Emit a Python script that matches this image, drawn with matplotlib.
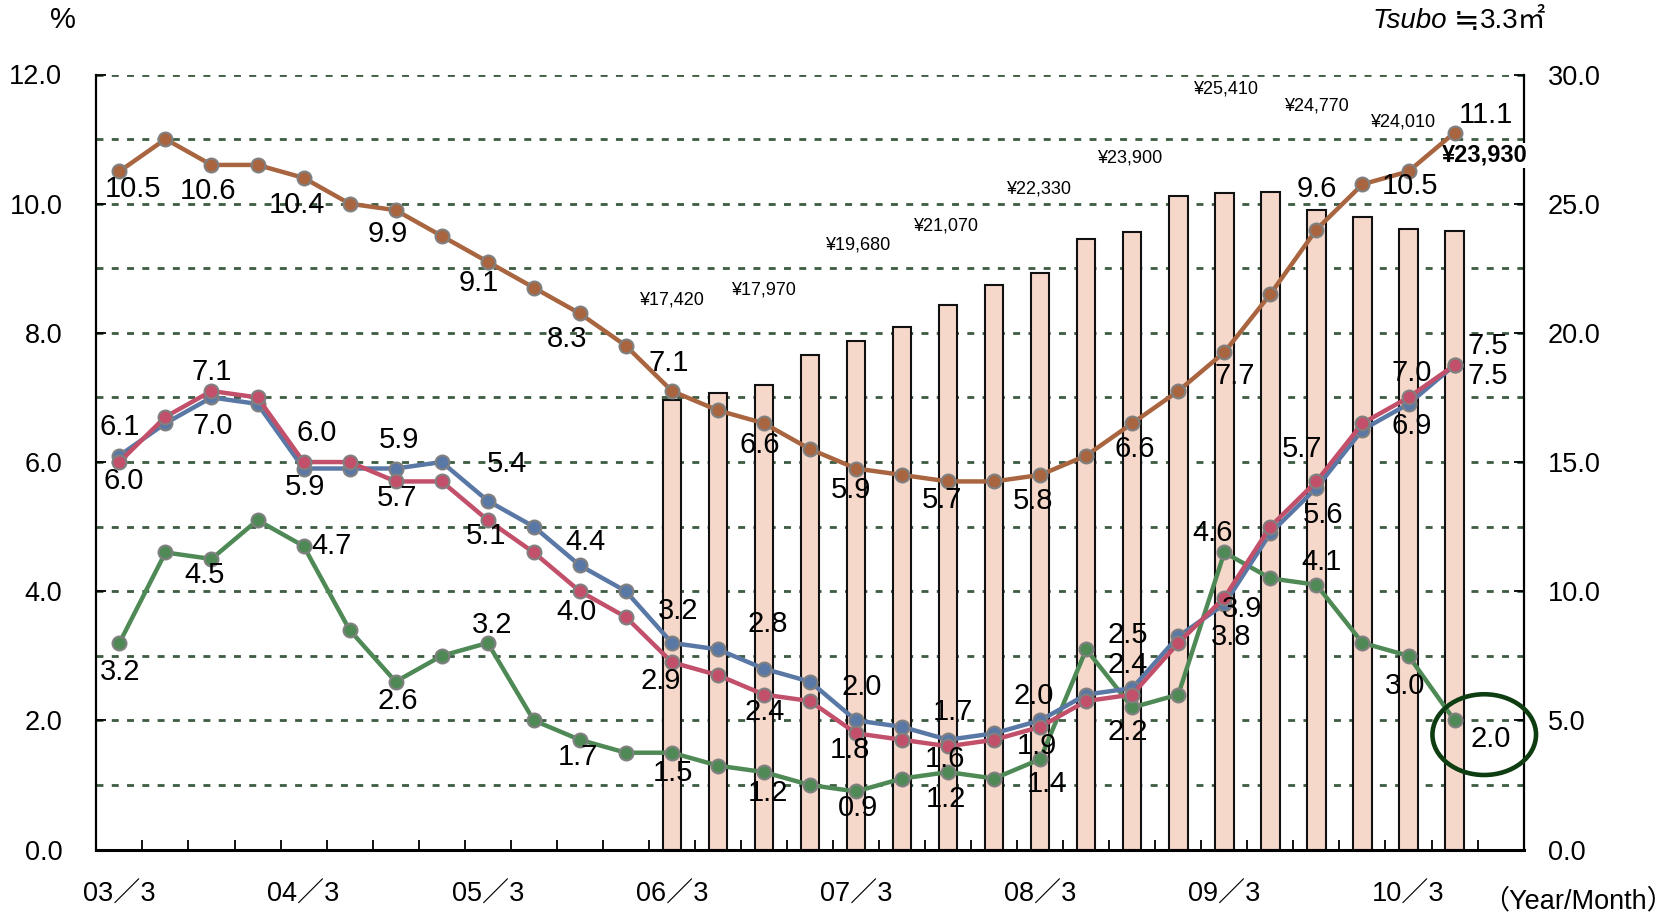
import numpy as np
import matplotlib
matplotlib.use('Agg')
import matplotlib.pyplot as plt
from matplotlib.patches import Ellipse

plt.rcParams['font.family'] = ['Liberation Sans', 'Noto Sans CJK JP', 'DejaVu Sans']
plt.rcParams['lines.scale_dashes'] = False

# quarterly periods 03/3 .. 10/6
periods = ['03/3', '03/6', '03/9', '03/12', '04/3', '04/6', '04/9', '04/12',
           '05/3', '05/6', '05/9', '05/12', '06/3', '06/6', '06/9', '06/12',
           '07/3', '07/6', '07/9', '07/12', '08/3', '08/6', '08/9', '08/12',
           '09/3', '09/6', '09/9', '09/12', '10/3', '10/6']

brown = [10.5, 11.0, 10.6, 10.6, 10.4, 10.0, 9.9, 9.5, 9.1, 8.7, 8.3, 7.8, 7.1, 6.8, 6.6,
         6.2, 5.9, 5.8, 5.7, 5.7, 5.8, 6.1, 6.6, 7.1, 7.7, 8.6, 9.6, 10.3, 10.5, 11.1]
blue = [6.1, 6.6, 7.0, 6.9, 5.9, 5.9, 5.9, 6.0, 5.4, 5.0, 4.4, 4.0, 3.2, 3.1, 2.8,
        2.6, 2.0, 1.9, 1.7, 1.8, 2.0, 2.4, 2.5, 3.3, 3.8, 4.9, 5.6, 6.5, 6.9, 7.5]
red = [6.0, 6.7, 7.1, 7.0, 6.0, 6.0, 5.7, 5.7, 5.1, 4.6, 4.0, 3.6, 2.9, 2.7, 2.4,
       2.3, 1.8, 1.7, 1.6, 1.7, 1.9, 2.3, 2.4, 3.2, 3.9, 5.0, 5.7, 6.6, 7.0, 7.5]
green = [3.2, 4.6, 4.5, 5.1, 4.7, 3.4, 2.6, 3.0, 3.2, 2.0, 1.7, 1.5, 1.5, 1.3, 1.2,
         1.0, 0.9, 1.1, 1.2, 1.1, 1.4, 3.1, 2.2, 2.4, 4.6, 4.2, 4.1, 3.2, 3.0, 2.0]

# rent per tsubo (thousand yen), from 06/3
rent_start = 12
rent = [17.42, 17.68, 17.97, 19.15, 19.68, 20.24, 21.07, 21.86, 22.33, 23.63,
        23.90, 25.28, 25.41, 25.44, 24.77, 24.48, 24.01, 23.93]
rent_labels = {12: '¥17,420', 14: '¥17,970', 16: '¥19,680', 18: '¥21,070', 20: '¥22,330',
               22: '¥23,900', 24: '¥25,410', 26: '¥24,770', 28: '¥24,010', 29: '¥23,930'}

# label offsets in pixels (dx, dy down) for each labelled point
brown_off = {0: (14, 18), 2: (-3, 26), 4: (-7, 27), 6: (-8, 24), 8: (-9, 21), 10: (-13, 26),
             12: (-3, -28), 14: (-4, 22), 16: (-5, 21), 18: (-6, 19), 20: (-7, 26),
             22: (2, 26), 24: (10, 24), 26: (0, -41), 28: (1, 15), 29: (31, -18)}
blue_off = {0: (0, -29), 2: (1, 29), 4: (1, 18), 6: (3, -29), 8: (19, -37), 10: (6, -23),
            12: (6, -32), 14: (4, -45), 16: (6, -33), 18: (5, -28), 20: (-7, -24),
            22: (-5, -53), 24: (7, 33), 26: (7, 27), 28: (3, 22), 29: (33, 11)}
red_off = {0: (4, 19), 2: (0, -19), 4: (13, -29), 6: (1, 17), 8: (-2, 16), 10: (-3, 21),
           12: (-11, 19), 14: (1, 17), 16: (-6, 17), 18: (-3, 13), 20: (-3, 19),
           22: (-5, -30), 24: (18, 11), 26: (-14, -32), 28: (3, -24), 29: (33, -19)}
green_off = {0: (1, 29), 2: (-7, 16), 4: (28, 0), 6: (2, 19), 8: (4, -18), 10: (-2, 17),
             12: (1, 20), 14: (4, 21), 16: (2, 17), 18: (-2, 27), 20: (7, 25), 22: (-5, 25),
             24: (-12, -19), 26: (5, -23), 28: (-3, 30), 29: (36, 19)}
rent_off = {12: (0, -100), 14: (-1, -95), 16: (2, -96), 18: (-3, -79), 20: (-2, -84),
            22: (-3, -74), 24: (1, -104), 26: (0, -104), 28: (-6, -107), 29: (30, -76)}

c_brown = '#a8653f'
c_blue = '#5a78a6'
c_red = '#c2506a'
c_green = '#4f8a56'

W, H = 1679, 916
fig = plt.figure(figsize=(W / 100, H / 100), dpi=100)
ax = fig.add_axes([96.4 / W, 1 - 849.6 / H, (1523.6 - 96.4) / W, (849.6 - 74.5) / H])
ax2 = ax.twinx()
ax.set_zorder(ax2.get_zorder() + 1)
ax.patch.set_visible(False)

x = np.arange(len(periods))
xr = np.arange(rent_start, rent_start + len(rent))

# bars on right axis
ax2.bar(xr, rent, width=0.4, color='#f6d8ca', edgecolor='#111111', linewidth=1.5, zorder=2)
ax2.set_ylim(0, 30)
ax2.set_yticks(np.arange(0, 30.1, 5))
ax2.set_yticklabels(['%.1f' % v for v in np.arange(0, 30.1, 5)])
ax2.set_yticks(np.arange(2.5, 30, 5), minor=True)
ax2.set_axisbelow(True)
ax2.yaxis.grid(True, which='both', color='#3d5c42', linewidth=2.0, linestyle=(0, (5, 6)))
ax2.tick_params(axis='y', which='major', direction='in', length=7, width=1.3, pad=17.5,
                labelsize=19.5)
ax2.tick_params(axis='y', which='minor', length=0)
for s in ['top', 'left', 'bottom']:
    ax2.spines[s].set_visible(False)
ax2.spines['right'].set_linewidth(1.6)

for i, r in zip(xr, rent):
    if i in rent_labels:
        dx, dy = rent_off[i]
        if i == xr[-1]:
            ax2.annotate(rent_labels[i], (i, r), xytext=(dx, -dy), textcoords='offset pixels',
                         ha='center', va='center', fontsize=17, fontweight='bold',
                         bbox=dict(boxstyle='square,pad=0.05', fc='white', ec='none'))
        else:
            ax2.annotate(rent_labels[i], (i, r), xytext=(dx, -dy), textcoords='offset pixels',
                         ha='center', va='center', fontsize=13)

# lines on left axis
series = [(green, c_green, green_off), (blue, c_blue, blue_off),
          (red, c_red, red_off), (brown, c_brown, brown_off)]
for vals, col, off in series:
    ax.plot(x, vals, '-o', color=col, lw=3.2, ms=10, mfc=col, mec='#808080', mew=1.5,
            clip_on=False)
for vals, col, off in series:
    for i, (dx, dy) in off.items():
        ax.annotate('%.1f' % vals[i], (x[i], vals[i]), xytext=(dx, -dy),
                    textcoords='offset pixels', ha='center', va='center', fontsize=21)

ax.set_xlim(-0.5, len(periods) + 0.5)
ax.set_ylim(0, 12)
ax.set_yticks(np.arange(0, 12.1, 2))
ax.set_yticklabels(['%.1f' % v for v in np.arange(0, 12.1, 2)])
ax.tick_params(axis='y', direction='in', length=7, width=1.3, pad=24.5, labelsize=19.5)

year_idx = [i for i, p in enumerate(periods) if p.endswith('/3')]
ax.set_xticks(year_idx)
ax.set_xticklabels([periods[i].replace('/', '／') for i in year_idx])
ax.set_xticks(np.arange(-0.5, len(periods) + 1, 1), minor=True)
ax.tick_params(axis='x', which='major', length=0, pad=23, labelsize=19.5)
ax.tick_params(axis='x', which='minor', direction='in', length=7, width=1.3)
for s in ['top', 'right']:
    ax.spines[s].set_visible(False)
ax.spines['left'].set_linewidth(1.6)
ax.spines['bottom'].set_linewidth(2.2)

# circle round the last green value
last = len(green) - 1
ax.add_patch(Ellipse((x[last] + 0.645, green[last] - 0.22), 2.25, 1.25, fill=False,
                     edgecolor='#0f3d12', linewidth=3.3, clip_on=False, zorder=5))

fig.text(63 / W, 1 - 20 / H, '%', ha='center', va='center', fontsize=21)
fig.text(1447 / W, 1 - 21 / H, 'Tsubo', ha='right', va='center', fontsize=20, style='italic')
fig.text(1454 / W, 1 - 21 / H, '≒', ha='left', va='center', fontsize=22,
         family=['Noto Sans CJK JP', 'DejaVu Sans'])
fig.text(1480 / W, 1 - 21 / H, '3.3㎡', ha='left', va='center', fontsize=20,
         family=['Liberation Sans', 'Noto Sans CJK JP', 'DejaVu Sans'])
fig.text(1578 / W, 1 - 901 / H, '（Year/Month）', ha='center', va='center', fontsize=19.5)

fig.savefig('out.png', dpi=100)
